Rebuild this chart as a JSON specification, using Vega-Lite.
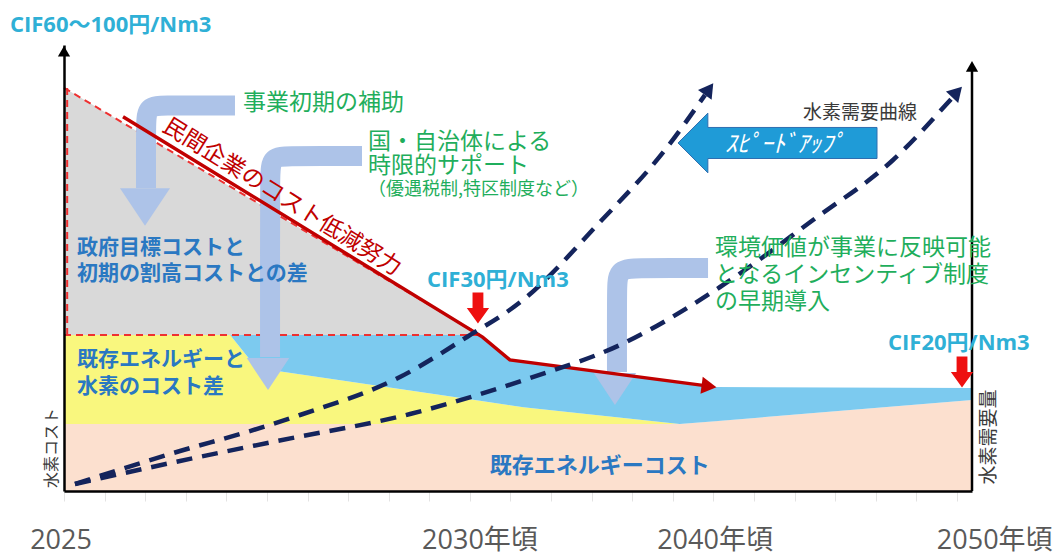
{
  "$schema": "https://vega.github.io/schema/vega-lite/v6.json",
  "width": 908,
  "height": 446,
  "autosize": {"type": "none"},
  "padding": {"left": 64, "top": 45, "right": 86, "bottom": 61},
  "background": "white",
  "config": {"view": {"stroke": null}},
  "datasets": {
    "peach": [{"u": 0, "v": 15.0}, {"u": 67.8, "v": 15.0}, {"u": 100, "v": 20.4}],
    "yellow": [{"u": 0, "v": 35.0}, {"u": 18.3, "v": 35.0}, {"u": 20.5, "v": 29.4}, {"u": 23.5, "v": 26.9}, {"u": 50.6, "v": 18.8}, {"u": 67.8, "v": 15.0}],
    "blue": [
      {"u": 18.3, "v": 35.0, "v2": 35.0}, {"u": 20.5, "v": 35.0, "v2": 29.4}, {"u": 23.5, "v": 35.0, "v2": 26.9},
      {"u": 45.8, "v": 35.0, "v2": 20.25}, {"u": 49.1, "v": 29.4, "v2": 19.25}, {"u": 50.6, "v": 29.0, "v2": 18.8},
      {"u": 67.8, "v": 24.4, "v2": 15.0}, {"u": 71.7, "v": 23.3, "v2": 15.65}, {"u": 100, "v": 23.1, "v2": 20.4}
    ],
    "gray": [{"u": 0, "v": 90.4, "v2": 35.0}, {"u": 45.8, "v": 35.0, "v2": 35.0}],
    "reddash": [
      {"seg": "d", "i": 0, "u": 0, "v": 90.4}, {"seg": "d", "i": 1, "u": 45.8, "v": 35.0},
      {"seg": "h", "i": 0, "u": 0, "v": 35.0}, {"seg": "h", "i": 1, "u": 45.8, "v": 35.0},
      {"seg": "l", "i": 0, "u": 0.35, "v": 35.0}, {"seg": "l", "i": 1, "u": 0.35, "v": 90.4}
    ],
    "bands": [
      {"arrow": "a1", "i": 0, "u": 18.83, "v": 86.43}, {"arrow": "a1", "i": 1, "u": 14.98, "v": 86.43}, {"arrow": "a1", "i": 2, "u": 11.12, "v": 86.43},
      {"arrow": "a1", "i": 3, "u": 9.14, "v": 86.32}, {"arrow": "a1", "i": 4, "u": 9.03, "v": 82.29}, {"arrow": "a1", "i": 5, "u": 9.03, "v": 74.22}, {"arrow": "a1", "i": 6, "u": 9.03, "v": 67.94},
      {"arrow": "a2", "i": 0, "u": 32.82, "v": 75.11}, {"arrow": "a2", "i": 1, "u": 28.19, "v": 75.11}, {"arrow": "a2", "i": 2, "u": 24.89, "v": 75.11},
      {"arrow": "a2", "i": 3, "u": 22.8, "v": 74.89}, {"arrow": "a2", "i": 4, "u": 22.69, "v": 70.85}, {"arrow": "a2", "i": 5, "u": 22.69, "v": 54.04}, {"arrow": "a2", "i": 6, "u": 22.69, "v": 30.04},
      {"arrow": "a3", "i": 0, "u": 70.93, "v": 50.0}, {"arrow": "a3", "i": 1, "u": 66.74, "v": 50.0}, {"arrow": "a3", "i": 2, "u": 63.44, "v": 50.0},
      {"arrow": "a3", "i": 3, "u": 61.01, "v": 49.78}, {"arrow": "a3", "i": 4, "u": 60.9, "v": 45.74}, {"arrow": "a3", "i": 5, "u": 60.9, "v": 36.1}, {"arrow": "a3", "i": 6, "u": 60.9, "v": 26.68}
    ],
    "headBig": [{"u": 8.92, "v": 63.68}],
    "headSmall": [{"u": 22.47, "v": 26.23}, {"u": 60.68, "v": 22.87}],
    "redline": [{"i": 0, "u": 6.5, "v": 83.9}, {"i": 1, "u": 46.1, "v": 34.5}, {"i": 2, "u": 49.1, "v": 29.4}, {"i": 3, "u": 70.37, "v": 23.68}],
    "redhead": [{"u": 71.04, "v": 23.5}],
    "demand": [
      {"curve": "A", "u": 1.21, "v": 1.57}, {"curve": "A", "u": 12.78, "v": 8.97}, {"curve": "A", "u": 20.15, "v": 13.23},
      {"curve": "A", "u": 25.99, "v": 17.04}, {"curve": "A", "u": 37.0, "v": 25.56}, {"curve": "A", "u": 44.38, "v": 34.53},
      {"curve": "A", "u": 50.55, "v": 42.83}, {"curve": "A", "u": 59.03, "v": 60.31}, {"curve": "A", "u": 66.19, "v": 76.46}, {"curve": "A", "u": 70.59, "v": 88.79},
      {"curve": "B", "u": 1.21, "v": 1.57}, {"curve": "B", "u": 12.78, "v": 6.73}, {"curve": "B", "u": 23.46, "v": 11.21},
      {"curve": "B", "u": 38.11, "v": 17.26}, {"curve": "B", "u": 51.32, "v": 25.34}, {"curve": "B", "u": 61.23, "v": 32.74},
      {"curve": "B", "u": 72.25, "v": 45.74}, {"curve": "B", "u": 82.49, "v": 60.76}, {"curve": "B", "u": 91.3, "v": 74.22}, {"curve": "B", "u": 97.8, "v": 88.12}
    ],
    "demandHeadA": [{"u": 71.04, "v": 90.13}],
    "demandHeadB": [{"u": 98.35, "v": 89.46}],
    "rightAxis": [{"u": 100, "v": 95.0, "v2": 0}],
    "axisHeads": [{"u": 0, "v": 98.6}, {"u": 100, "v": 95.2}],
    "speedArrow": [{"u": 78.58, "v": 78.03}],
    "cifArrows": [{"u": 45.59, "v": 41.03}, {"u": 98.9, "v": 26.68}],
    "cyanText": [
      {"u": -5.95, "v": 104.5, "t": "CIF60～100円/Nm3"},
      {"u": 39.98, "v": 47.3, "t": "CIF30円/Nm3"},
      {"u": 90.75, "v": 33.2, "t": "CIF20円/Nm3"}
    ],
    "greenText": [
      {"u": 19.71, "v": 87.0, "t": "事業初期の補助"},
      {"u": 33.48, "v": 78.25, "t": "国・自治体による"},
      {"u": 33.48, "v": 72.87, "t": "時限的サポート"},
      {"u": 71.7, "v": 54.48, "t": "環境価値が事業に反映可能"},
      {"u": 71.7, "v": 48.43, "t": "となるインセンティブ制度"},
      {"u": 71.7, "v": 42.38, "t": "の早期導入"}
    ],
    "greenSmall": [{"u": 33.48, "v": 67.6, "t": "（優遇税制,特区制度など）"}],
    "blueText": [
      {"u": 1.43, "v": 54.48, "t": "政府目標コストと"},
      {"u": 1.43, "v": 48.65, "t": "初期の割高コストとの差"},
      {"u": 1.43, "v": 29.4, "t": "既存エネルギーと"},
      {"u": 1.43, "v": 23.3, "t": "水素のコスト差"}
    ],
    "blueBottom": [{"u": 46.9, "v": 5.6, "t": "既存エネルギーコスト"}],
    "redText": [{"u": 24.0, "v": 65.9, "t": "民間企業のコスト低減努力"}],
    "grayText": [{"u": 81.39, "v": 84.75, "t": "水素需要曲線"}],
    "speedText": [{"u": 79.4, "v": 77.58, "t": "ｽﾋﾟｰﾄﾞｱｯﾌﾟ"}],
    "vertLeft": [{"u": -1.32, "v": 9.64, "t": "水素コスト"}],
    "vertRight": [{"u": 101.87, "v": 12.1, "t": "水素需要量"}],
    "yearText": [
      {"u": -0.33, "v": -13.0, "t": "2025"},
      {"u": 45.81, "v": -13.0, "t": "2030年頃"},
      {"u": 71.7, "v": -13.0, "t": "2040年頃"},
      {"u": 102.5, "v": -13.0, "t": "2050年頃"}
    ]
  },
  "encoding": {
    "x": {
      "field": "u", "type": "quantitative",
      "scale": {"domain": [0, 100], "nice": false, "zero": false},
      "axis": {
        "title": null, "labels": false, "grid": false, "zindex": 1,
        "values": [0, 4.47, 8.94, 13.41, 17.88, 22.35, 26.82, 31.29, 35.76, 40.23, 44.7, 49.17, 53.64, 58.11, 62.58, 67.05, 71.52, 75.99, 80.46, 84.93, 89.4, 93.87, 98.34],
        "ticks": true, "tickColor": "#e3e3e3", "tickSize": 10, "tickWidth": 1,
        "domain": true, "domainColor": "#000000", "domainWidth": 2.5
      }
    },
    "y": {
      "field": "v", "type": "quantitative",
      "scale": {"domain": [0, 100], "nice": false, "zero": false},
      "axis": {"title": null, "labels": false, "ticks": false, "grid": false, "zindex": 1, "domain": true, "domainColor": "#000000", "domainWidth": 2.5}
    }
  },
  "layer": [
    {"data": {"name": "peach"}, "mark": {"type": "area", "color": "#fce0cf"}, "encoding": {"y2": {"datum": 0}}},
    {"data": {"name": "yellow"}, "mark": {"type": "area", "color": "#f9f77e"}, "encoding": {"y2": {"datum": 15.0}}},
    {"data": {"name": "blue"}, "mark": {"type": "area", "color": "#7ccaef"}, "encoding": {"y2": {"field": "v2"}}},
    {"data": {"name": "gray"}, "mark": {"type": "area", "color": "#d9d9d9"}, "encoding": {"y2": {"field": "v2"}}},
    {"data": {"name": "reddash"}, "mark": {"type": "line", "color": "#ee3030", "strokeWidth": 2, "strokeDash": [7, 5]}, "encoding": {"detail": {"field": "seg"}, "order": {"field": "i"}}},
    {"data": {"name": "bands"}, "mark": {"type": "line", "color": "#adc3e8", "strokeWidth": 20, "strokeCap": "butt", "interpolate": "basis"}, "encoding": {"detail": {"field": "arrow"}, "order": {"field": "i"}}},
    {"data": {"name": "headBig"}, "mark": {"type": "point", "filled": true, "opacity": 1, "color": "#adc3e8", "shape": "M-1,-0.75L1,-0.75L0,0.75Z", "size": 2500}, "encoding": {}},
    {"data": {"name": "headSmall"}, "mark": {"type": "point", "filled": true, "opacity": 1, "color": "#adc3e8", "shape": "M-1,-0.75L1,-0.75L0,0.75Z", "size": 1800}, "encoding": {}},
    {"data": {"name": "redline"}, "mark": {"type": "line", "color": "#c00000", "strokeWidth": 3.5}, "encoding": {"order": {"field": "i"}}},
    {"data": {"name": "redhead"}, "mark": {"type": "point", "filled": true, "opacity": 1, "color": "#c00000", "shape": "triangle-right", "size": 300, "angle": 7.5}, "encoding": {}},
    {"data": {"name": "demand"}, "mark": {"type": "line", "color": "#14245c", "strokeWidth": 4.5, "strokeDash": [16, 10], "interpolate": "monotone"}, "encoding": {"detail": {"field": "curve"}}},
    {"data": {"name": "demandHeadA"}, "mark": {"type": "point", "filled": true, "opacity": 1, "color": "#14245c", "shape": "triangle-up", "size": 280, "angle": 35.6}, "encoding": {}},
    {"data": {"name": "demandHeadB"}, "mark": {"type": "point", "filled": true, "opacity": 1, "color": "#14245c", "shape": "triangle-up", "size": 280, "angle": 43}, "encoding": {}},
    {"data": {"name": "rightAxis"}, "mark": {"type": "rule", "color": "#000000", "strokeWidth": 2.5}, "encoding": {"y2": {"field": "v2"}}},
    {"data": {"name": "axisHeads"}, "mark": {"type": "point", "filled": true, "opacity": 1, "color": "#000000", "shape": "triangle-up", "size": 150}, "encoding": {}},
    {"data": {"name": "speedArrow"}, "mark": {"type": "point", "filled": true, "opacity": 1, "color": "#1f9bd7", "stroke": "#2e6eb0", "strokeWidth": 1, "shape": "M-1,0L-0.7,-0.3L-0.7,-0.156L1,-0.156L1,0.156L-0.7,0.156L-0.7,0.3Z", "size": 39601}, "encoding": {}},
    {"data": {"name": "cifArrows"}, "mark": {"type": "point", "filled": true, "opacity": 1, "color": "#ee1010", "shape": "M-0.35,-1L0.35,-1L0.35,0L0.72,0L0,1L-0.72,0L-0.35,0Z", "size": 961}, "encoding": {}},
    {"data": {"name": "cyanText"}, "mark": {"type": "text", "align": "left", "baseline": "middle", "font": "Open Sans, Noto Sans CJK JP", "fontWeight": "bold", "fontSize": 22, "color": "#2fb0d6"}, "encoding": {"text": {"field": "t"}}},
    {"data": {"name": "greenText"}, "mark": {"type": "text", "align": "left", "baseline": "middle", "font": "Noto Sans CJK JP", "fontSize": 23, "color": "#1fae5c"}, "encoding": {"text": {"field": "t"}}},
    {"data": {"name": "greenSmall"}, "mark": {"type": "text", "align": "left", "baseline": "middle", "font": "Noto Sans CJK JP", "fontSize": 18, "color": "#1fae5c"}, "encoding": {"text": {"field": "t"}}},
    {"data": {"name": "blueText"}, "mark": {"type": "text", "align": "left", "baseline": "middle", "font": "Noto Sans CJK JP", "fontWeight": "bold", "fontSize": 21, "color": "#2a78c2"}, "encoding": {"text": {"field": "t"}}},
    {"data": {"name": "blueBottom"}, "mark": {"type": "text", "align": "left", "baseline": "middle", "font": "Noto Sans CJK JP", "fontWeight": "bold", "fontSize": 22, "color": "#2a78c2"}, "encoding": {"text": {"field": "t"}}},
    {"data": {"name": "redText"}, "mark": {"type": "text", "align": "center", "baseline": "middle", "font": "Noto Sans CJK JP", "fontSize": 23, "angle": 32, "color": "#c00000"}, "encoding": {"text": {"field": "t"}}},
    {"data": {"name": "grayText"}, "mark": {"type": "text", "align": "left", "baseline": "middle", "font": "Noto Sans CJK JP", "fontSize": 19, "color": "#3a3a3a"}, "encoding": {"text": {"field": "t"}}},
    {"data": {"name": "speedText"}, "mark": {"type": "text", "align": "center", "baseline": "middle", "font": "Noto Sans CJK JP", "fontSize": 24, "fontStyle": "italic", "color": "#ffffff"}, "encoding": {"text": {"field": "t"}}},
    {"data": {"name": "vertLeft"}, "mark": {"type": "text", "align": "center", "baseline": "middle", "font": "Noto Sans CJK JP", "fontSize": 16, "angle": 270, "color": "#3a3a3a"}, "encoding": {"text": {"field": "t"}}},
    {"data": {"name": "vertRight"}, "mark": {"type": "text", "align": "center", "baseline": "middle", "font": "Noto Sans CJK JP", "fontSize": 19, "angle": 270, "color": "#3a3a3a"}, "encoding": {"text": {"field": "t"}}},
    {"data": {"name": "yearText"}, "mark": {"type": "text", "align": "center", "baseline": "alphabetic", "font": "Open Sans, Noto Sans CJK JP", "fontSize": 27, "color": "#595959"}, "encoding": {"text": {"field": "t"}}}
  ]
}
